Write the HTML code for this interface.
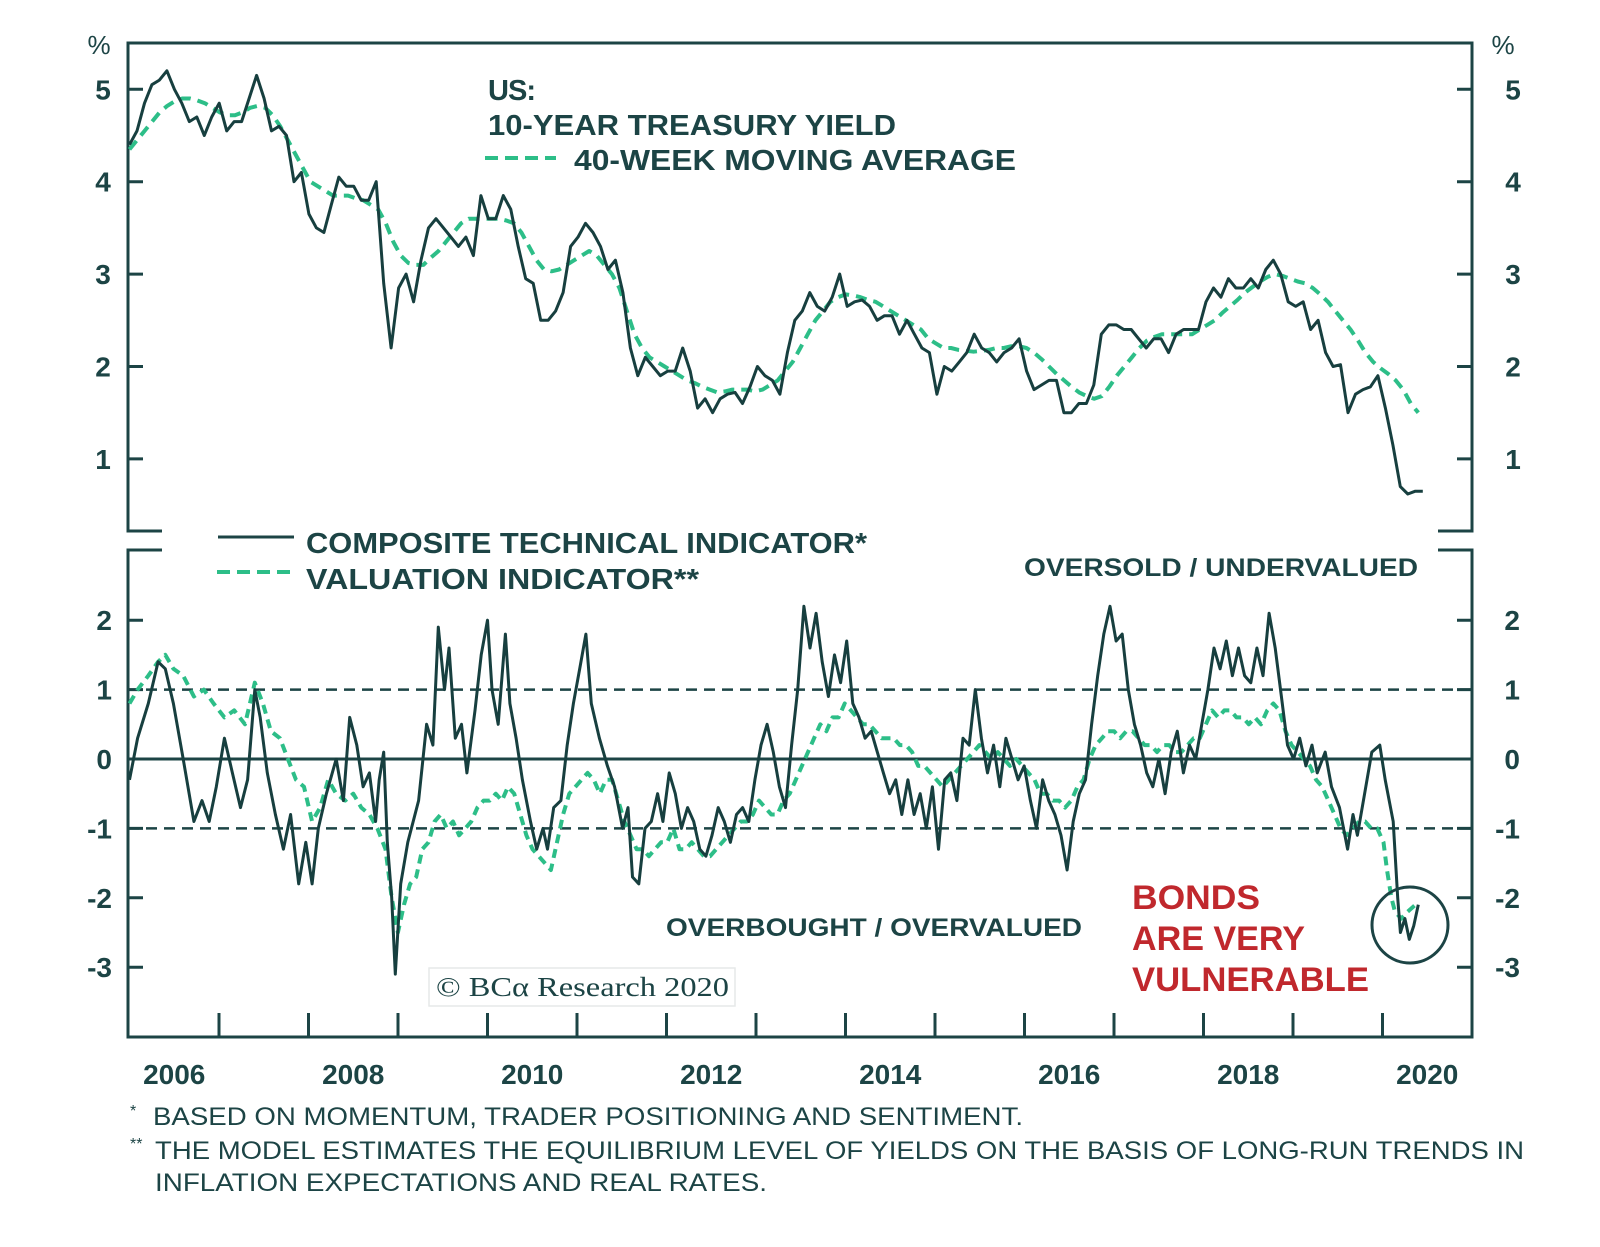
<!DOCTYPE html>
<html><head><meta charset="utf-8"><style>
html,body{margin:0;padding:0;background:#fff;}
svg{display:block;font-family:"Liberation Sans",sans-serif;}
.ax{font-weight:bold;font-size:28px;fill:#1c4445;}
</style></head><body>
<svg id="chart" width="1600" height="1247" viewBox="0 0 1600 1247" xmlns="http://www.w3.org/2000/svg">
<g id="frames" fill="none" stroke="#1c4445" stroke-width="3"></g>
<g id="marks"></g>
<g id="texts"></g>
</svg>
<script>
// ---- data ----
const yieldStart = 2006.0, yieldEnd = 2020.45;
const yieldValues = [4.4,4.55,4.85,5.05,5.1,5.2,5.0,4.85,4.65,4.7,4.5,4.7,
4.85,4.55,4.65,4.65,4.9,5.15,4.9,4.55,4.6,4.5,4.0,4.1,
3.65,3.5,3.45,3.75,4.05,3.95,3.95,3.8,3.8,4.0,2.9,2.2,
2.85,3.0,2.7,3.15,3.5,3.6,3.5,3.4,3.3,3.4,3.2,3.85,
3.6,3.6,3.85,3.7,3.3,2.95,2.9,2.5,2.5,2.6,2.8,3.3,
3.4,3.55,3.45,3.3,3.05,3.15,2.8,2.2,1.9,2.1,2.0,1.9,
1.95,1.95,2.2,1.95,1.55,1.65,1.5,1.65,1.7,1.72,1.6,1.78,
2.0,1.9,1.85,1.7,2.15,2.5,2.6,2.8,2.65,2.6,2.75,3.0,
2.65,2.7,2.72,2.65,2.5,2.55,2.55,2.35,2.5,2.35,2.2,2.15,
1.7,2.0,1.95,2.05,2.15,2.35,2.2,2.15,2.05,2.15,2.2,2.3,
1.95,1.75,1.8,1.85,1.85,1.5,1.5,1.6,1.6,1.8,2.35,2.45,
2.45,2.4,2.4,2.3,2.2,2.3,2.3,2.15,2.35,2.4,2.4,2.4,
2.7,2.85,2.75,2.95,2.85,2.85,2.95,2.85,3.05,3.15,3.0,2.7,
2.65,2.7,2.4,2.5,2.15,2.0,2.02,1.5,1.7,1.75,1.78,1.9,
1.55,1.15,0.7,0.62,0.65,0.65];
const maStart = 2006.0, maEnd = 2020.4;
const maValues = [4.35,4.45,4.55,4.65,4.75,4.82,4.87,4.9,4.9,4.88,4.85,4.8,
4.75,4.72,4.72,4.75,4.8,4.82,4.8,4.72,4.6,4.45,4.3,4.15,
4.0,3.95,3.9,3.85,3.85,3.85,3.82,3.8,3.75,3.7,3.55,3.35,
3.2,3.12,3.1,3.1,3.18,3.25,3.35,3.45,3.55,3.6,3.6,3.6,
3.6,3.6,3.58,3.55,3.45,3.3,3.15,3.05,3.03,3.05,3.1,3.15,
3.2,3.25,3.2,3.1,3.0,2.85,2.6,2.35,2.2,2.1,2.05,2.0,
1.95,1.9,1.85,1.82,1.78,1.75,1.72,1.73,1.75,1.75,1.75,1.73,
1.75,1.8,1.85,1.95,2.05,2.2,2.35,2.5,2.6,2.7,2.75,2.78,
2.77,2.75,2.72,2.7,2.65,2.6,2.55,2.5,2.45,2.4,2.3,2.25,
2.2,2.2,2.18,2.17,2.16,2.17,2.18,2.2,2.2,2.22,2.22,2.2,
2.15,2.08,2.0,1.92,1.85,1.78,1.72,1.68,1.65,1.68,1.78,1.9,
2.0,2.1,2.2,2.28,2.32,2.35,2.35,2.35,2.35,2.35,2.4,2.45,
2.5,2.58,2.65,2.72,2.8,2.86,2.92,2.97,3.0,2.98,2.95,2.92,
2.9,2.85,2.78,2.7,2.6,2.5,2.4,2.28,2.15,2.05,1.98,1.92,
1.85,1.75,1.6,1.5];

// composite technical indicator
const compEarlyDates = [2006.00,2006.09,2006.21,2006.32,2006.40,2006.49,2006.60,2006.72,2006.81,2006.89,2006.97,2007.06,2007.15,2007.24,2007.32,2007.40,2007.46,2007.54,2007.63,2007.72,2007.80,2007.89,2007.97,2008.04,2008.11,2008.20,2008.31,2008.39,2008.46,2008.54,2008.61,2008.68,2008.75,2008.79,2008.84,2008.88,2008.93,2008.97,2009.03,2009.11,2009.23,2009.32,2009.39,2009.45,2009.52,2009.57,2009.64,2009.71,2009.77,2009.86,2009.93,2010.00,2010.05,2010.12,2010.20,2010.25,2010.32,2010.39,2010.48,2010.55,2010.62,2010.67,2010.74,2010.82,2010.89,2010.96,2011.03,2011.10,2011.16,2011.25,2011.34,2011.42,2011.51,2011.57,2011.62,2011.69,2011.76,2011.83,2011.90,2011.96];
const compEarlyValues = [-0.3,0.3,0.8,1.4,1.3,0.8,0.0,-0.9,-0.6,-0.9,-0.4,0.3,-0.2,-0.7,-0.3,1.0,0.6,-0.2,-0.8,-1.3,-0.8,-1.8,-1.2,-1.8,-1.0,-0.5,0.0,-0.6,0.6,0.2,-0.4,-0.2,-0.9,-0.3,0.1,-1.2,-2.0,-3.1,-1.8,-1.2,-0.6,0.5,0.2,1.9,1.0,1.6,0.3,0.5,-0.2,0.7,1.5,2.0,1.0,0.5,1.8,0.8,0.3,-0.3,-0.9,-1.3,-1.0,-1.3,-0.7,-0.6,0.2,0.8,1.3,1.8,0.8,0.3,-0.1,-0.4,-1.0,-0.7,-1.7,-1.8,-1.0,-0.9,-0.5,-0.9];
const compMidStart = 2012.03, compMidStep = 0.0684;
const compMidValues = [-0.2,-0.5,-1.0,-0.7,-0.9,-1.3,-1.4,-1.1,-0.7,-0.9,-1.2,-0.8,-0.7,-0.9,-0.3,0.2,0.5,0.1,-0.4,-0.7,0.2,1.0,2.2,1.6,2.1,1.4,0.9,1.5,1.1,1.7,0.8,0.6,0.3,0.4,0.1,-0.2,-0.5,-0.3,-0.8,-0.3,-0.8,-0.5,-1.0,-0.4,-1.3,-0.3,-0.2,-0.6,0.3,0.2,1.0,0.3,-0.2,0.2,-0.4,0.3,0.0,-0.3,-0.1,-0.6,-1.0,-0.3,-0.6,-0.8,-1.1,-1.6,-0.9,-0.5,-0.3,0.5,1.2,1.8,2.2,1.7,1.8,1.0,0.5,0.2,-0.2,-0.4,0.0,-0.5,0.1,0.4,-0.2,0.2,0.0,0.5,1.0,1.6,1.3,1.7,1.2,1.6,1.2,1.1,1.6,1.2,2.1,1.6,0.9,0.2,0.0,0.3,-0.1,0.2];
const compTailDates = [2019.27,2019.36,2019.43,2019.52,2019.61,2019.67,2019.72,2019.80,2019.88,2019.97,2020.03,2020.12,2020.17,2020.20,2020.25,2020.30,2020.35,2020.40];
const compTailValues = [-0.2,0.1,-0.4,-0.7,-1.3,-0.8,-1.1,-0.5,0.1,0.2,-0.3,-0.9,-2.0,-2.5,-2.3,-2.6,-2.4,-2.1];

// valuation indicator
const valEarlyDates = [2006.00,2006.09,2006.21,2006.32,2006.40,2006.49,2006.60,2006.72,2006.83,2006.94,2007.06,2007.17,2007.29,2007.40,2007.49,2007.58,2007.68,2007.77,2007.86,2007.95,2008.04,2008.13,2008.22,2008.31,2008.41,2008.50,2008.59,2008.68,2008.77,2008.86];
const valEarlyValues = [0.8,1.0,1.2,1.4,1.5,1.3,1.2,0.9,1.0,0.8,0.6,0.7,0.5,1.1,0.8,0.4,0.3,0.0,-0.3,-0.4,-0.9,-0.7,-0.3,-0.5,-0.6,-0.5,-0.7,-0.8,-1.0,-1.3];
const valMidStart = 2008.93, valMidStep = 0.0684;
const valMidValues = [-2.0,-2.5,-2.1,-1.8,-1.7,-1.3,-1.2,-0.9,-0.8,-1.0,-0.9,-1.1,-1.0,-0.9,-0.7,-0.6,-0.6,-0.5,-0.6,-0.4,-0.5,-0.8,-1.1,-1.3,-1.4,-1.5,-1.6,-1.2,-0.8,-0.5,-0.4,-0.3,-0.2,-0.3,-0.5,-0.3,-0.3,-0.6,-0.9,-1.1,-1.3,-1.3,-1.4,-1.3,-1.2,-1.2,-1.0,-1.3,-1.3,-1.2,-1.3,-1.4,-1.4,-1.3,-1.2,-1.1,-1.0,-0.9,-0.9,-0.8,-0.6,-0.7,-0.8,-0.8,-0.6,-0.5,-0.3,-0.1,0.1,0.3,0.5,0.4,0.6,0.6,0.8,0.7,0.6,0.5,0.5,0.4,0.3,0.3,0.3,0.2,0.2,0.1,-0.1,-0.1,-0.2,-0.3,-0.4,-0.3,-0.2,-0.1,0.0,0.1,0.2,0.1,0.0,0.1,0.0,-0.1,0.0,-0.1,-0.2,-0.3,-0.5,-0.5,-0.6,-0.6,-0.7,-0.6,-0.4,-0.3,0.0,0.2,0.3,0.4,0.4,0.3,0.4,0.4,0.3,0.2,0.2,0.1,0.2,0.2,0.1,0.1,0.2,0.3,0.3,0.5,0.7,0.6,0.7,0.7,0.6,0.6,0.5,0.6,0.5,0.7,0.8,0.7,0.4,0.2,0.1,0.0,-0.1,-0.3,-0.4,-0.6,-0.8,-1.0,-1.1,-1.0,-0.9,-0.9,-1.0,-1.0,-1.2];
const valTailDates = [2020.05,2020.10,2020.14,2020.21,2020.28,2020.37];
const valTailValues = [-1.6,-2.0,-2.2,-2.3,-2.2,-2.1];

const compDates = compEarlyDates.concat(compMidValues.map((v,i)=>compMidStart+i*compMidStep), compTailDates);
const compValues = compEarlyValues.concat(compMidValues, compTailValues);
const valDates = valEarlyDates.concat(valMidValues.map((v,i)=>valMidStart+i*valMidStep), valTailDates);
const valValues = valEarlyValues.concat(valMidValues, valTailValues);

const topTicks = [1,2,3,4,5];
const bottomTicks = [-3,-2,-1,0,1,2];
const yearLabels = [2006,2008,2010,2012,2014,2016,2018,2020];
const yearTicks = [2007,2008,2009,2010,2011,2012,2013,2014,2015,2016,2017,2018,2019,2020];

// ---- axes ----
const X0=129.5, PXY=89.5;
const xS = t => X0 + (t-2006)*PXY;
const yTop = v => 89.3 + (5-v)*92.4;
const yBot = v => 759 + (0-v)*69.4;
const NS="http://www.w3.org/2000/svg";
const frames=document.getElementById('frames'), marks=document.getElementById('marks'), texts=document.getElementById('texts');
function mk(tag, attrs, parent){const e=document.createElementNS(NS,tag);for(const k in attrs)e.setAttribute(k,attrs[k]);parent.appendChild(e);return e;}

let f;
f=mk('path',{d:'M162,531 H128 V43 H1472 V531 H1438'},frames);


f=mk('path',{d:'M162,550 H128 V1037 H1472 V550 H1438'},frames);



topTicks.forEach(v=>{
  const y=yTop(v);
  let t=mk('path',{d:`M128,${y} H143 M1457,${y} H1472`,stroke:'#1c4445','stroke-width':3},marks);
  
  
  let a=mk('text',{x:103,y:y+10,'text-anchor':'middle','class':'ax'},texts);a.textContent=v;
  
  
  let b=mk('text',{x:1513,y:y+10,'text-anchor':'middle','class':'ax'},texts);b.textContent=v;
  
  
});
bottomTicks.forEach(v=>{
  const y=yBot(v);
  let t=mk('path',{d:`M128,${y} H143 M1457,${y} H1472`,stroke:'#1c4445','stroke-width':3},marks);
  
  
  let a=mk('text',{x:112,y:y+10,'text-anchor':'end','class':'ax'},texts);a.textContent=v;
  
  
  let b=mk('text',{x:1520,y:y+10,'text-anchor':'end','class':'ax'},texts);b.textContent=v;
  
  
});
[-1,1].forEach(v=>{
  let l=mk('line',{x1:128,x2:1472,y1:yBot(v),y2:yBot(v),stroke:'#1c4445','stroke-width':2.5,'stroke-dasharray':'11 7'},marks);
  
  
});
let z=mk('line',{x1:128,x2:1472,y1:yBot(0),y2:yBot(0),stroke:'#1c4445','stroke-width':3},marks);


yearTicks.forEach(yr=>{
  let t=mk('line',{x1:xS(yr),x2:xS(yr),y1:1013,y2:1037,stroke:'#1c4445','stroke-width':3},marks);
  
  
});
yearLabels.forEach(yr=>{
  let a=mk('text',{x:xS(yr+0.5),y:1084,'text-anchor':'middle','class':'ax'},texts);a.textContent=yr;
  
  
});

function seriesU(vals,s,e,yf,attrs,name){
  const n=vals.length;
  const d=vals.map((v,i)=>(i?'L':'M')+xS(s+(e-s)*i/(n-1)).toFixed(1)+','+yf(v).toFixed(1)).join(' ');
  const p=mk('path',Object.assign({d:d,fill:'none','stroke-linejoin':'round'},attrs),marks);
  
  
}
function seriesD(dates,vals,yf,attrs,name){
  const d=vals.map((v,i)=>(i?'L':'M')+xS(dates[i]).toFixed(1)+','+yf(v).toFixed(1)).join(' ');
  const p=mk('path',Object.assign({d:d,fill:'none','stroke-linejoin':'round'},attrs),marks);
  
  
}
seriesU(maValues,maStart,maEnd,yTop,{stroke:'#2dbe88','stroke-width':4,'stroke-dasharray':'11 7'},'moving-average-line');
seriesU(yieldValues,yieldStart,yieldEnd,yTop,{stroke:'#173f3f','stroke-width':3},'treasury-yield-line');
seriesD(valDates,valValues,yBot,{stroke:'#2dbe88','stroke-width':4,'stroke-dasharray':'9 6'},'valuation-indicator-line');
seriesD(compDates,compValues,yBot,{stroke:'#173f3f','stroke-width':3},'composite-indicator-line');
</script>
<svg style="position:absolute;left:0;top:0" width="1600" height="1247" viewBox="0 0 1600 1247" xmlns="http://www.w3.org/2000/svg">
<g font-family="Liberation Sans, sans-serif" fill="#1c4445" font-weight="bold">
<text x="99" y="54" text-anchor="middle" font-size="26" font-weight="normal">%</text>
<text x="1503" y="54" text-anchor="middle" font-size="26" font-weight="normal">%</text>
<text x="488" y="100" font-size="29" textLength="48">US:</text>
<text x="488" y="135" font-size="29" textLength="408" lengthAdjust="spacingAndGlyphs">10-YEAR TREASURY YIELD</text>
<line x1="485" y1="158" x2="556" y2="158" stroke="#2dbe88" stroke-width="4" stroke-dasharray="13 7"/>
<text x="574" y="170" font-size="29" textLength="442" lengthAdjust="spacingAndGlyphs">40-WEEK MOVING AVERAGE</text>
<line x1="218" y1="537" x2="294" y2="537" stroke="#1c4445" stroke-width="3"/>
<line x1="217" y1="572" x2="292" y2="572" stroke="#2dbe88" stroke-width="4" stroke-dasharray="13 7"/>
<text x="306" y="553" font-size="29" textLength="561" lengthAdjust="spacingAndGlyphs">COMPOSITE TECHNICAL INDICATOR*</text>
<text x="306" y="589" font-size="29" textLength="393" lengthAdjust="spacingAndGlyphs">VALUATION INDICATOR**</text>
<text x="1024" y="576" font-size="25" textLength="394" lengthAdjust="spacingAndGlyphs">OVERSOLD / UNDERVALUED</text>
<text x="666" y="936" font-size="25" textLength="416" lengthAdjust="spacingAndGlyphs">OVERBOUGHT / OVERVALUED</text>
<g fill="#c0282d" font-size="34" font-weight="bold">
<text x="1132" y="909" textLength="128" lengthAdjust="spacingAndGlyphs">BONDS</text>
<text x="1132" y="950" textLength="173" lengthAdjust="spacingAndGlyphs">ARE VERY</text>
<text x="1132" y="991" textLength="237" lengthAdjust="spacingAndGlyphs">VULNERABLE</text>
</g>
<circle cx="1410" cy="925" r="38" fill="none" stroke="#1c4445" stroke-width="3"/>
<rect x="429" y="968" width="306" height="38" fill="none" stroke="#e6e9e9" stroke-width="1.5"/>
<text x="436" y="996" font-family="Liberation Serif, serif" font-weight="normal" font-size="27" textLength="293" lengthAdjust="spacingAndGlyphs">© BCα Research 2020</text>
<g font-size="25" font-weight="normal">
<text x="130" y="1116" font-size="16">*</text>
<text x="153" y="1125" textLength="870" lengthAdjust="spacingAndGlyphs">BASED ON MOMENTUM, TRADER POSITIONING AND SENTIMENT.</text>
<text x="130" y="1149" font-size="16">**</text>
<text x="155" y="1159" textLength="1369" lengthAdjust="spacingAndGlyphs">THE MODEL ESTIMATES THE EQUILIBRIUM LEVEL OF YIELDS ON THE BASIS OF LONG-RUN TRENDS IN</text>
<text x="155" y="1191" textLength="612" lengthAdjust="spacingAndGlyphs">INFLATION EXPECTATIONS AND REAL RATES.</text>
</g>
</g>
</svg>
</body></html>
